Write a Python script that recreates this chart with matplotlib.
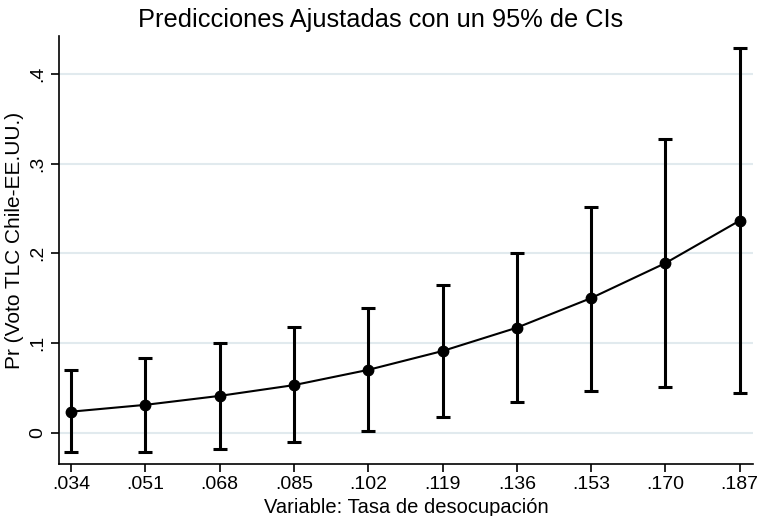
import matplotlib
matplotlib.use("Agg")
import matplotlib.pyplot as plt

plt.rcParams['font.family'] = ['Liberation Sans', 'DejaVu Sans']

x_vals = [0.034, 0.051, 0.068, 0.085, 0.102, 0.119, 0.136, 0.153, 0.170, 0.187]
x_labels = [".034", ".051", ".068", ".085", ".102", ".119", ".136", ".153", ".170", ".187"]
pred = [0.0234, 0.031, 0.041, 0.053, 0.070, 0.091, 0.117, 0.150, 0.189, 0.2364]
upper = [0.070, 0.083, 0.0997, 0.1175, 0.1387, 0.1647, 0.200, 0.2516, 0.3278, 0.429]
lower = [-0.022, -0.021, -0.018, -0.0104, 0.0015, 0.017, 0.034, 0.047, 0.051, 0.044]
y_ticks = [0, 0.1, 0.2, 0.3, 0.4]
y_labels = ["0", ".1", ".2", ".3", ".4"]

fig = plt.figure(figsize=(7.62, 5.16), dpi=100)
ax = fig.add_axes([0.0774, 0.1008, 0.9106, 0.8292])

yerr = [[p - l for p, l in zip(pred, lower)], [u - p for p, u in zip(pred, upper)]]
ax.errorbar(x_vals, pred, yerr=yerr, fmt='none', ecolor='black', elinewidth=2.2,
            capsize=5, capthick=2.2, zorder=3)
ax.plot(x_vals, pred, color='black', lw=1.5, marker='o', markersize=7.5, zorder=4)

ax.set_xlim(0.03126, 0.190)
ax.set_ylim(-0.0349, 0.442)
ax.set_xticks(x_vals)
ax.set_xticklabels(x_labels, fontsize=14)
ax.set_yticks(y_ticks)
ax.set_yticklabels(y_labels, fontsize=14, rotation=90, va='center')
ax.yaxis.grid(True, color='#e1eaee', lw=1.5)
ax.set_axisbelow(True)
for s in ['top', 'right']:
    ax.spines[s].set_visible(False)
ax.spines['left'].set_linewidth(1.2)
ax.spines['bottom'].set_linewidth(1.2)
ax.tick_params(direction='out', length=6, width=1.2, pad=3)

fig.text(0.5, 0.985, "Predicciones Ajustadas con un 95% de CIs", fontsize=18.3,
         ha='center', va='top')
ax.set_xlabel("Variable: Tasa de desocupación", fontsize=14.5)
ax.xaxis.set_label_coords(0.5, -0.079)
ax.set_ylabel("Pr (Voto TLC Chile-EE.UU.)", fontsize=15)
ax.yaxis.set_label_coords(-0.050, 0.523)

fig.savefig("out.png", dpi=100, facecolor='white')
